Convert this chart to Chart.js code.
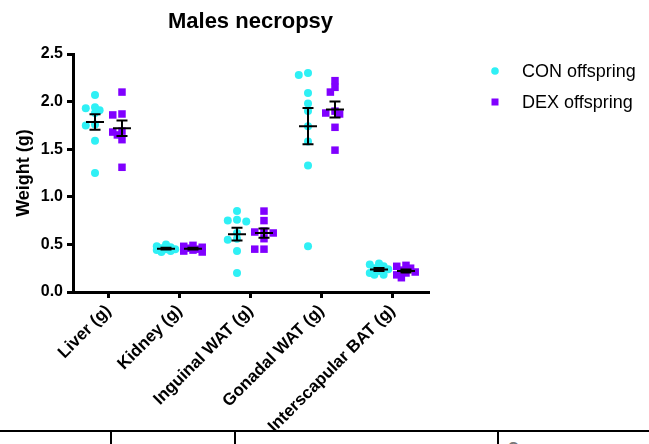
<!DOCTYPE html>
<html>
<head>
<meta charset="utf-8">
<title>Males necropsy</title>
<script src="https://cdn.jsdelivr.net/npm/chart.js@4/dist/chart.umd.min.js"></script>
<style>
  html, body { margin: 0; padding: 0; background: #fff; }
  body { width: 649px; height: 444px; overflow: hidden; position: relative; }
  #wrap { position: absolute; left: 0; top: 0; width: 649px; height: 444px; z-index: 1; }
  .rule { position: absolute; background: #000; z-index: 0; }
  .cell { position: absolute; z-index: 0; color: #777; font: bold 14px "Liberation Sans", Arial, sans-serif; }
</style>
</head>
<body>
<!-- edge of the table that sits under the figure -->
<div class="rule" style="left:0;top:430px;width:649px;height:2px"></div>
<div class="rule" style="left:110px;top:431px;width:2px;height:13px"></div>
<div class="rule" style="left:234px;top:431px;width:2px;height:13px"></div>
<div class="rule" style="left:497px;top:431px;width:2px;height:13px"></div>
<div class="cell" style="left:508px;top:439px">Group</div>
<div id="wrap"><canvas id="necropsyChart" width="649" height="444"></canvas></div>

<script>
// ==========================
// Data
// ==========================
const categories = ['Liver (g)', 'Kidney (g)', 'Inguinal WAT (g)', 'Gonadal WAT (g)', 'Interscapular BAT (g)'];
const yTicks = [0, 0.5, 1.0, 1.5, 2.0, 2.5];

const conLiver  = [2.07, 1.94, 1.93, 1.91, 1.88, 1.76, 1.75, 1.59, 1.25];
const conKidney = [0.50, 0.48, 0.47, 0.46, 0.45, 0.45, 0.44, 0.43, 0.42];
const conIngWat = [0.85, 0.76, 0.75, 0.74, 0.62, 0.56, 0.55, 0.43, 0.20];
const conGonWat = [2.30, 2.28, 2.09, 1.98, 1.90, 1.74, 1.58, 1.33, 0.48];
const conBat    = [0.30, 0.29, 0.27, 0.25, 0.24, 0.22, 0.20, 0.18, 0.18];

const dexLiver  = [2.10, 1.87, 1.86, 1.69, 1.68, 1.65, 1.60, 1.31];
const dexKidney = [0.49, 0.48, 0.47, 0.46, 0.45, 0.44, 0.43, 0.42];
const dexIngWat = [0.85, 0.75, 0.64, 0.63, 0.62, 0.56, 0.45, 0.45];
const dexGonWat = [2.22, 2.15, 2.10, 1.90, 1.88, 1.87, 1.73, 1.49];
const dexBat    = [0.28, 0.27, 0.25, 0.23, 0.21, 0.20, 0.18, 0.15];

const conGroups = [conLiver, conKidney, conIngWat, conGonWat, conBat];
const dexGroups = [dexLiver, dexKidney, dexIngWat, dexGonWat, dexBat];

const CON_COLOR = '#2ff0f5';
const DEX_COLOR = '#8000ff';
const GROUP_SHIFT = 0.19; // CON sits left of the tick, DEX right

Chart.defaults.font.family = '"Liberation Sans", Arial, Helvetica, sans-serif';
Chart.defaults.color = '#000';

// ==========================
// Helpers
// ==========================
function meanOf(values) {
  return values.reduce((s, v) => s + v, 0) / values.length;
}

function semOf(values) {
  const m = meanOf(values);
  const ss = values.reduce((s, v) => s + (v - m) * (v - m), 0);
  return Math.sqrt(ss / (values.length - 1)) / Math.sqrt(values.length);
}

// compact beeswarm: spread close values a little sideways, allow some overlap
function swarm(values, centre) {
  const placed = [];
  values.slice().sort((a, b) => b - a).forEach(v => {
    let best = null, bestGap = -1;
    for (let k = 0; k < 5; k++) {
      const step = (k % 2 ? -1 : 1) * Math.ceil(k / 2);
      const x = centre + step * 0.065;
      const gap = placed.reduce((g, p) => Math.min(g, Math.hypot((p.x - x) * 71, (p.y - v) * 95)), 99);
      if (gap >= 5) { best = x; break; }
      if (gap > bestGap) { bestGap = gap; best = x; }
    }
    placed.push({ x: best, y: v });
  });
  return placed;
}

function buildPoints(groups, shift) {
  let pts = [];
  groups.forEach((vals, i) => { pts = pts.concat(swarm(vals, i + shift)); });
  return pts;
}

// ==========================
// Plugins
// ==========================
const meanSemPlugin = {
  id: 'meanSem',
  afterDatasetsDraw(chart) {
    const { ctx, scales: { x, y } } = chart;
    ctx.save();
    ctx.strokeStyle = '#000';
    ctx.lineWidth = 2;
    [[conGroups, -GROUP_SHIFT], [dexGroups, GROUP_SHIFT]].forEach(([groups, shift]) => {
      groups.forEach((vals, i) => {
        const m = meanOf(vals);
        const s = semOf(vals);
        const cx = x.getPixelForValue(i + shift);
        const yMean = y.getPixelForValue(m);
        const yHi = y.getPixelForValue(m + s);
        const yLo = y.getPixelForValue(m - s);
        ctx.beginPath();
        ctx.moveTo(cx - 9, yMean); ctx.lineTo(cx + 9, yMean);
        ctx.moveTo(cx, yHi); ctx.lineTo(cx, yLo);
        ctx.moveTo(cx - 5.5, yHi); ctx.lineTo(cx + 5.5, yHi);
        ctx.moveTo(cx - 5.5, yLo); ctx.lineTo(cx + 5.5, yLo);
        ctx.stroke();
      });
    });
    ctx.restore();
  }
};

const sideLegendPlugin = {
  id: 'sideLegend',
  afterDraw(chart) {
    const ctx = chart.ctx;
    ctx.save();
    ctx.font = '18px "Liberation Sans", Arial, sans-serif';
    ctx.textBaseline = 'middle';
    ctx.fillStyle = CON_COLOR;
    ctx.beginPath();
    ctx.arc(495, 71, 3.8, 0, Math.PI * 2);
    ctx.fill();
    ctx.fillStyle = DEX_COLOR;
    ctx.fillRect(491.5, 98.5, 7, 7);
    ctx.fillStyle = '#000';
    ctx.fillText('CON offspring', 522, 72);
    ctx.fillText('DEX offspring', 522, 103);
    ctx.restore();
  }
};

// ==========================
// Chart
// ==========================
const necropsyChart = new Chart(document.getElementById('necropsyChart'), {
  type: 'scatter',
  data: {
    datasets: [
      {
        label: 'CON offspring',
        data: buildPoints(conGroups, -GROUP_SHIFT),
        pointStyle: 'circle',
        pointRadius: 4,
        backgroundColor: CON_COLOR,
        borderWidth: 0
      },
      {
        label: 'DEX offspring',
        data: buildPoints(dexGroups, GROUP_SHIFT),
        pointStyle: 'rect',
        pointRadius: 5.3,
        backgroundColor: DEX_COLOR,
        borderWidth: 0
      }
    ]
  },
  options: {
    responsive: false,
    animation: false,
    events: [],
    layout: { padding: { top: 0, left: 0, right: 221, bottom: 0 } },
    plugins: {
      legend: { display: false },
      tooltip: { enabled: false },
      title: {
        display: true,
        text: 'Males necropsy',
        fullSize: false,
        color: '#000',
        font: { size: 22, weight: 'bold' },
        padding: { top: 9, bottom: 18.6 }
      }
    },
    scales: {
      x: {
        type: 'linear',
        min: -0.5,
        max: 4.5,
        afterBuildTicks(scale) {
          scale.ticks = categories.map((c, i) => ({ value: i }));
        },
        afterFit(scale) { scale.height = 152; },
        ticks: {
          minRotation: 45,
          maxRotation: 45,
          padding: 3,
          color: '#000',
          font: { size: 17, weight: 'bold' },
          callback: (value) => categories[value]
        },
        grid: { drawOnChartArea: false, drawTicks: true, tickLength: 6, lineWidth: 3, color: '#000' },
        border: { display: true, color: '#000', width: 3 }
      },
      y: {
        min: 0,
        max: 2.5,
        afterBuildTicks(scale) {
          scale.ticks = yTicks.map(v => ({ value: v }));
        },
        afterFit(scale) { scale.width = 73; },
        ticks: {
          padding: 4,
          color: '#000',
          font: { size: 16, weight: 'bold' },
          callback: (value) => Number(value).toFixed(1)
        },
        grid: { drawOnChartArea: false, drawTicks: true, tickLength: 6, lineWidth: 3, color: '#000' },
        border: { display: true, color: '#000', width: 3 },
        title: {
          display: true,
          text: 'Weight (g)',
          color: '#000',
          font: { size: 18, weight: 'bold' },
          padding: { top: 13, bottom: 0 }
        }
      }
    }
  },
  plugins: [meanSemPlugin, sideLegendPlugin]
});
</script>
</body>
</html>
